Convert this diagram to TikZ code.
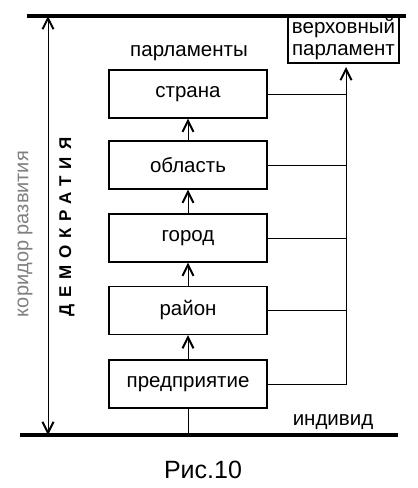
\documentclass[tikz,border=0pt]{standalone}
\usepackage{fontspec}
\setmainfont{Liberation Sans}
\newfontfamily\demfont{Liberation Sans}[LetterSpace=40]
\usetikzlibrary{arrows.meta}
\begin{document}
\begin{tikzpicture}[x=1pt,y=-1pt,
  >={Straight Barb[length=11pt,width=11pt,line width=2pt]},
  lvl/.style={draw,line width=1.2pt,minimum width=158pt,minimum height=48pt,inner sep=0pt,font=\fontsize{20.5}{23}\selectfont},
  thick line/.style={line width=4pt},
  conn/.style={line width=1pt},
  lbl/.style={inner sep=0pt,font=\fontsize{20.5}{23}\selectfont}]
\useasboundingbox (0,0) rectangle (418,488);
% horizontal boundaries
\coordinate (tl) at (27,16);
\coordinate (tr) at (406,16);
\coordinate (bl) at (20,435);
\coordinate (br) at (398,435);
\draw[thick line] (tl) -- (tr);
\draw[thick line] (bl) -- (br);
% boxes
\node[lvl] (s) at (188,94) {страна};
\node[lvl] (o) at (188,165) {область};
\node[lvl] (g) at (188,238) {город};
\node[lvl] (r) at (188,310.5) {район};
\node[lvl] (p) at (188,384) {предприятие};
\node[draw,line width=1.2pt,minimum width=111pt,minimum height=47pt,inner sep=0pt,align=center,font=\fontsize{20.5}{22}\selectfont] (vp) at (343.5,39.5) {верховный\\парламент};
% labels
\node[lbl] (parl) at (189,53) {парламенты};
\node[lbl] (ind) at (333,422) {индивид};
\node[inner sep=0pt,font=\fontsize{25}{28}\selectfont] (fig) at (203,470) {Рис.10};
\node[inner sep=0pt,rotate=90,text=black!50,font=\fontsize{20}{22}\selectfont] (kor) at (25,234) {коридор развития};
\node[inner sep=0pt,rotate=90,font=\fontsize{17}{20}\selectfont\demfont\bfseries] (dem) at (67,227) {ДЕМОКРАТИЯ};
% corridor arrow
\coordinate (ca) at (48,16);
\coordinate (cb) at (48,435);
\draw[conn,<->] (ca) -- (cb);
% chain
\draw[conn,->] (o.north) -- (s.south);
\draw[conn,->] (g.north) -- (o.south);
\draw[conn,->] (r.north) -- (g.south);
\draw[conn,->] (p.north) -- (r.south);
\coordinate (pb) at (188,435);
\draw[conn] (pb) -- (p.south);
% right collector
\coordinate (rt) at (346,67);
\coordinate (rb) at (346,385);
\draw[conn,->] (rb) -- (rt);
\foreach \n in {s,o,g,r,p}{
  \draw[conn] (\n.east) -- (\n.east -| rt);
}
\end{tikzpicture}
\end{document}
